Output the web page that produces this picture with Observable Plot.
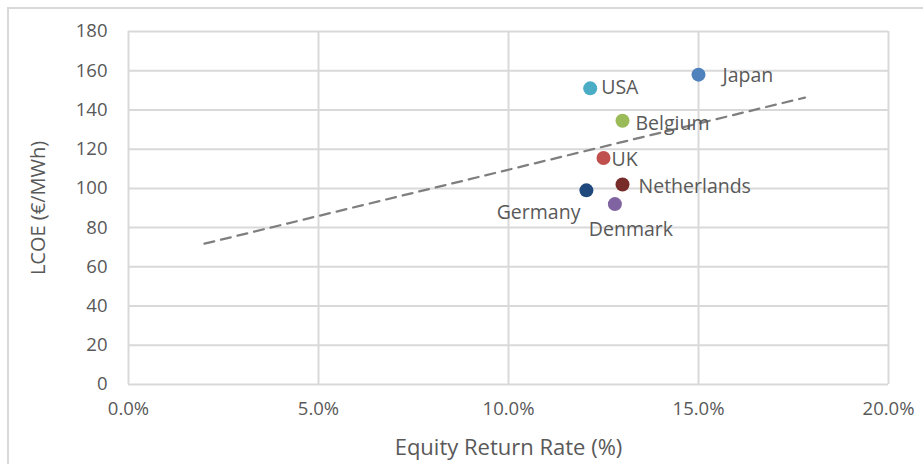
<!DOCTYPE html>
<html>
<head>
<meta charset="utf-8">
<script src="https://cdn.jsdelivr.net/npm/d3@7"></script>
<script src="https://cdn.jsdelivr.net/npm/@observablehq/plot@0.6"></script>
<style>
  html, body { margin: 0; padding: 0; background: #fff; }
  #wrap { position: relative; width: 923px; height: 464px; overflow: hidden; }
  #border { position: absolute; left: 7px; top: 7px; width: 930px; height: 470px;
            border: 2px solid #d9d9d9; box-sizing: border-box; }
  #chart { position: absolute; left: 0; top: 0; }
  svg text { font-family: "Open Sans", "Noto Sans", sans-serif; }
</style>
</head>
<body>
<div id="wrap"><div id="border"></div><div id="chart"></div></div>
<script>
const countries = ["Japan", "USA", "Belgium", "UK", "Netherlands", "Germany", "Denmark"];
const equityReturn = [15.0, 12.15, 13.0, 12.5, 13.0, 12.05, 12.8];   // %
const lcoe = [158, 151, 134.5, 115.5, 102, 99, 92];                  // €/MWh
const colors = ["#4F81BD", "#4BACC6", "#9BBB59", "#C0504D", "#772C2A", "#1F497D", "#8064A2"];
const trendX = [2, 17.8];
const trendY = [71.8, 146.3];
const xTicks = [0, 5, 10, 15, 20];
const yTicks = [0, 20, 40, 60, 80, 100, 120, 140, 160, 180];

const points = countries.map((c, i) => ({country: c, x: equityReturn[i], y: lcoe[i], color: colors[i]}));
const trend = trendX.map((x, i) => ({x, y: trendY[i]}));

// label placement (style only)
const labelPos = {
  Japan:       {dx: 24, dy: 1, anchor: "start"},
  USA:         {dx: 11, dy: -1, anchor: "start"},
  Belgium:     {dx: 13, dy: 3, anchor: "start"},
  UK:          {dx: 8, dy: 2, anchor: "start"},
  Netherlands: {dx: 16, dy: 2, anchor: "start"},
  Germany:     {dx: -6, dy: 22, anchor: "end"},
  Denmark:     {dx: 16, dy: 26, anchor: "middle"}
};

const gray = "#595959";
const grid = "#d9d9d9";

const plot = Plot.plot({
  width: 923,
  height: 464,
  marginLeft: 128,
  marginRight: 35,
  marginTop: 31,
  marginBottom: 80,
  style: {background: "transparent", color: gray, fontSize: "18px", fontFamily: "'Open Sans', sans-serif"},
  x: {domain: [0, 20], ticks: xTicks, tickFormat: d => d.toFixed(1) + "%", label: null},
  y: {domain: [0, 180], ticks: yTicks, label: null},
  marks: [
    Plot.gridX(xTicks, {stroke: grid, strokeOpacity: 1, strokeWidth: 2}),
    Plot.gridY(yTicks, {stroke: grid, strokeOpacity: 1, strokeWidth: 2}),
    Plot.axisX(xTicks, {tickSize: 0, tickPadding: 17, tickFormat: d => d.toFixed(1) + "%", fill: gray, fontSize: 18.5, label: null}),
    Plot.axisY(yTicks, {tickSize: 0, tickPadding: 21, fill: gray, fontSize: 18.5, label: null}),
    Plot.axisX({ticks: [], label: "Equity Return Rate (%)", labelAnchor: "center", labelArrow: "none", labelOffset: 70, fill: gray, fontSize: 22}),
    Plot.axisY({ticks: [], label: "LCOE (€/MWh)", labelAnchor: "center", labelArrow: "none", labelOffset: 98, fill: gray, fontSize: 20}),
    Plot.line(trend, {x: "x", y: "y", stroke: "#7f7f7f", strokeWidth: 2.25, strokeDasharray: "10,7"}),
    Plot.dot(points, {x: "x", y: "y", r: 7, fill: "color", stroke: null}),
    ...points.map(p => Plot.text([p], {
      x: "x", y: "y", text: "country",
      dx: labelPos[p.country].dx, dy: labelPos[p.country].dy,
      textAnchor: labelPos[p.country].anchor, fill: gray, fontSize: 19.5
    }))
  ]
});
document.getElementById("chart").appendChild(plot);
</script>
</body>
</html>
